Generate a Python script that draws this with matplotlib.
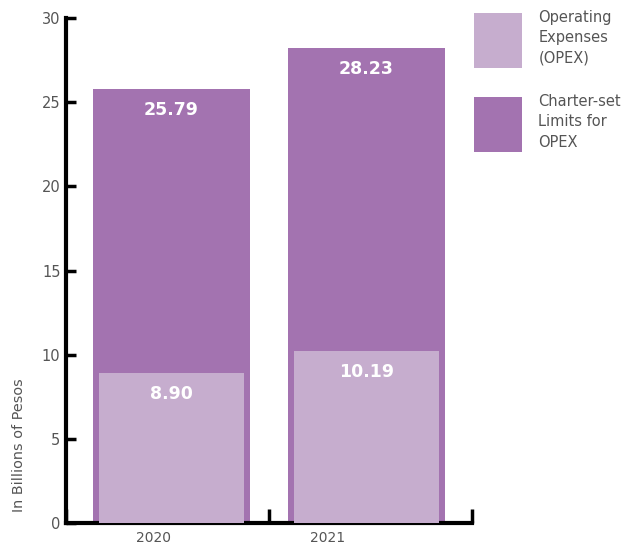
import matplotlib
matplotlib.use("Agg")
import matplotlib.pyplot as plt

years = ["2020", "2021"]
opex = [8.90, 10.19]
charter_limits = [25.79, 28.23]
yticks = [0, 5, 10, 15, 20, 25, 30]

DARK = "#A373B0"
LIGHT = "#C6ADCE"
GRAY = "#555555"

plt.rcParams["font.family"] = ["DejaVu Sans"]

fig = plt.figure(figsize=(6.29, 5.51), dpi=100)
ax = fig.add_axes([0.105, 0.051, 0.645, 0.916])

# bars sit slightly toward the middle of their category slots
inset = 0.02
x = [i + inset if i == 0 else i - inset for i in range(len(years))]
limit_bars = ax.bar(x, charter_limits, width=0.775, color=DARK,
                    label="Charter-set\nLimits for\nOPEX", zorder=2)
opex_bars = ax.bar(x, opex, width=0.715, color=LIGHT,
                   label="Operating\nExpenses\n(OPEX)", zorder=3)

for bars, vals in ((limit_bars, charter_limits), (opex_bars, opex)):
    for b, v in zip(bars, vals):
        ax.annotate(f"{v:.2f}", (b.get_x() + b.get_width() / 2, v),
                    xytext=(0, -15), textcoords="offset points",
                    ha="center", va="center", color="white",
                    fontsize=12.5, fontweight="bold", zorder=4)

ax.set_ylim(0, 30)
ax.set_xlim(-0.5, 1.5)
ax.set_yticks(yticks)
ax.tick_params(axis="y", direction="in", length=7, width=2.5, colors="black",
               labelcolor=GRAY, labelsize=10.5, pad=4)

# category boundaries get the tick marks, year labels sit on minor ticks
ax.set_xticks([-0.5, 0.5, 1.5])
ax.set_xticklabels([])
ax.tick_params(axis="x", which="major", direction="in", length=10, width=2.5)
ax.set_xticks([-0.07, 0.79], minor=True)
ax.set_xticklabels(years, minor=True)
ax.tick_params(axis="x", which="minor", length=0, labelcolor=GRAY,
               labelsize=10, pad=6)

for side in ("top", "right"):
    ax.spines[side].set_visible(False)
for side in ("left", "bottom"):
    ax.spines[side].set_linewidth(3)

ax.set_ylabel("In Billions of Pesos", color=GRAY, fontsize=10.4)
ax.yaxis.set_label_coords(-0.098, 0.155)

leg = fig.legend(handles=[opex_bars, limit_bars], loc="upper left",
                 bbox_to_anchor=(0.733, 1.006), frameon=False, fontsize=10.5,
                 handlelength=3.3, handleheight=5.4, handletextpad=1.1,
                 labelspacing=1.8, labelcolor=GRAY)
for t in leg.get_texts():
    t.set_linespacing(1.45)

fig.savefig("out.png", dpi=100)
